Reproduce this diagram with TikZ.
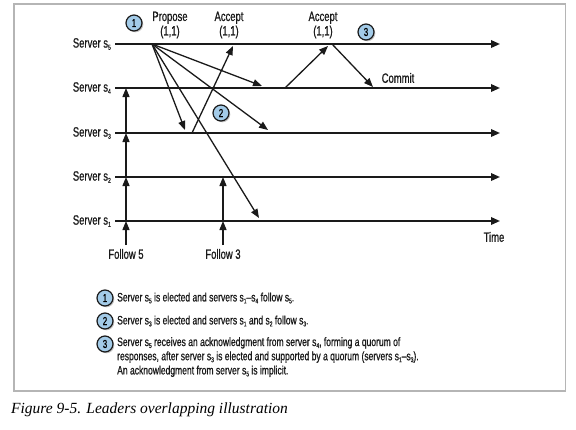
\documentclass[tikz,border=0pt]{standalone}
\usepackage{fontspec}
\setmainfont{Liberation Serif}
\newfontfamily\cf[FakeStretch=0.7,FakeBold=0.8]{Liberation Sans}
\newcommand{\sbx}[1]{\raisebox{-0.3ex}{\fontsize{7}{7}\selectfont #1}}
\usetikzlibrary{arrows.meta,shadows}
\definecolor{ink}{HTML}{1A1A1A}
\definecolor{badge}{HTML}{A3CBE8}
\definecolor{framegray}{HTML}{B5B5B5}
\begin{document}
\begin{tikzpicture}[x=1pt,y=-1pt,
  lbl/.style={font=\cf\fontsize{13.5}{14.5}\selectfont, text=ink, inner sep=0pt},
  leg/.style={font=\cf\fontsize{12.2}{14.2}\selectfont, text=ink, inner sep=0pt, anchor=west, align=left},
  tline/.style={line width=1.8pt, draw=ink, -{Triangle[length=9pt,width=7.5pt]}},
  msg/.style={line width=1.3pt, draw=ink, -{Triangle[length=9pt,width=7pt]}},
  badgec/.style={circle, draw=ink, line width=1.2pt, fill=badge, minimum size=16pt, inner sep=0pt,
     font=\cf\fontsize{11.5}{12}\selectfont,
     drop shadow={shadow xshift=1.3pt, shadow yshift=-1.3pt, opacity=0.45}},
]
\useasboundingbox (0,0) rectangle (576,429);
\draw[framegray, line width=1.5pt] (14,4) rectangle (565.5,391);

% time lines
\foreach \n/\y in {5/44,4/88,3/133,2/177,1/221}{
  \coordinate (a\n) at (115,\y);
  \coordinate (b\n) at (500,\y);
  \node[lbl, anchor=east] (l\n) at (111,\y) {Server s\sbx{\n}};
  \draw[tline] (a\n) -- (b\n);
}
\node[lbl] (time) at (494,237) {Time};

% follow 5
\coordinate (f5) at (126,245);
\coordinate (f5a) at (126,221);
\coordinate (f5b) at (126,177);
\coordinate (f5c) at (126,133);
\coordinate (f5d) at (126,88);
\draw[msg] (f5) -- (f5a);
\draw[msg] (f5a) -- (f5b);
\draw[msg] (f5b) -- (f5c);
\draw[msg] (f5c) -- (f5d);
\node[lbl] (fl5) at (126,254) {Follow 5};

% follow 3
\coordinate (f3) at (223,245);
\coordinate (f3a) at (223,221);
\coordinate (f3b) at (223,177);
\draw[msg] (f3) -- (f3a);
\draw[msg] (f3a) -- (f3b);
\node[lbl] (fl3) at (223,254) {Follow 3};

% propose from s5
\coordinate (p) at (152,44);
\coordinate (p4) at (262,86);
\coordinate (p3a) at (185,130);
\coordinate (p3b) at (268,130);
\coordinate (p1) at (259,218);
\draw[msg] (p) -- (p4);
\draw[msg] (p) -- (p3a);
\draw[msg] (p) -- (p3b);
\draw[msg] (p) -- (p1);
\node[lbl, align=center] (prop) at (170,25) {Propose\\(1,1)};

% accept from s3
\coordinate (q3) at (192,133);
\coordinate (q5) at (233,46);
\draw[msg] (q3) -- (q5);
\node[lbl, align=center] (acc1) at (229,25) {Accept\\(1,1)};

% accept from s4 and commit
\coordinate (r4) at (285,88);
\coordinate (r5) at (328,46);
\coordinate (c5) at (332,44);
\coordinate (c4) at (373,87);
\draw[msg] (r4) -- (r5);
\draw[msg] (c5) -- (c4);
\node[lbl, align=center] (acc2) at (323,25) {Accept\\(1,1)};
\node[lbl] (commit) at (398,78) {Commit};

% badges
\node[badgec] (n1) at (134,23) {1};
\node[badgec] (n2) at (221,113) {2};
\node[badgec] (n3) at (366,32) {3};

% legend
\node[badgec] (g1) at (105,298) {1};
\node[badgec] (g2) at (105,321) {2};
\node[badgec] (g3) at (105,344) {3};
\node[leg] (t1) at (117,298) {Server s\sbx{5} is elected and servers s\sbx{1}–s\sbx{4} follow s\sbx{5}.};
\node[leg] (t2) at (117,321) {Server s\sbx{3} is elected and servers s\sbx{1} and s\sbx{2} follow s\sbx{3}.};
\node[leg, anchor=north west] (t3) at (117,337) {Server s\sbx{5} receives an acknowledgment from server s\sbx{4}, forming a quorum of\\responses, after server s\sbx{3} is elected and supported by a quorum (servers s\sbx{1}–s\sbx{3}).\\An acknowledgment from server s\sbx{5} is implicit.};

% caption
\node[anchor=west, inner sep=0pt, font=\itshape\fontsize{15.5}{17}\selectfont] (cap) at (11,410) {Figure 9-5. Leaders overlapping illustration};
\end{tikzpicture}
\end{document}
